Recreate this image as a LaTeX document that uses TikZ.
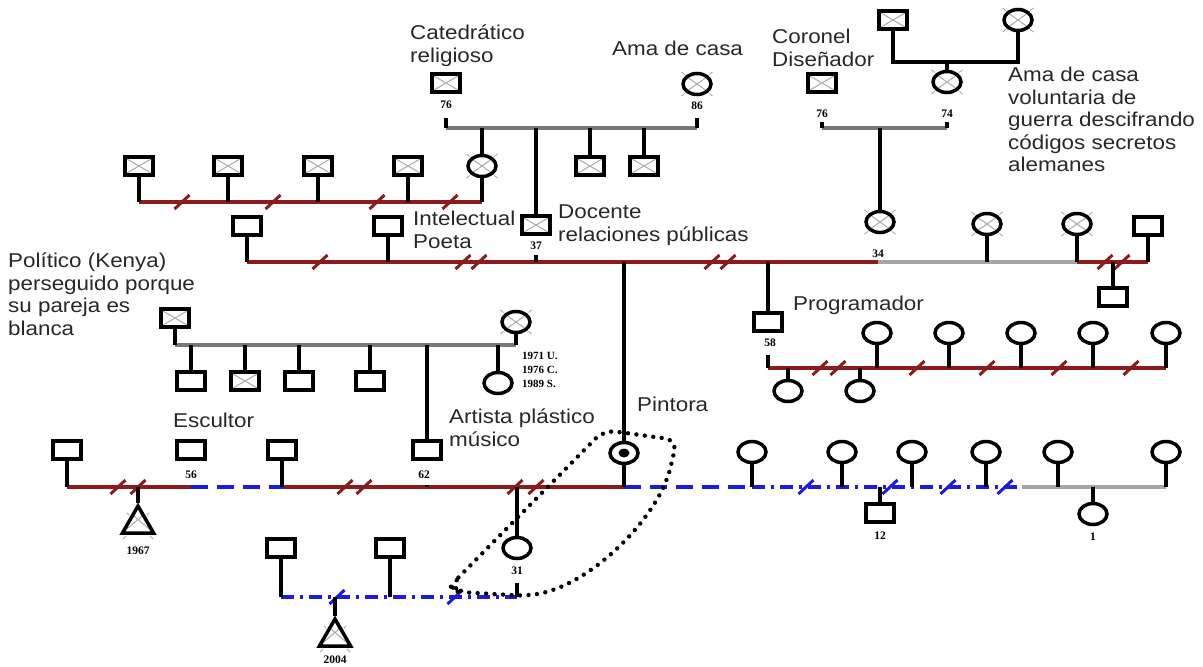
\documentclass[tikz,border=0pt]{standalone}
\usepackage{fontspec}
\setmainfont{Liberation Sans}
\newfontfamily\lab[FakeStretch=1.12]{Liberation Sans}
\newfontfamily\numf{Liberation Serif}
\usetikzlibrary{shapes.geometric,calc}
\definecolor{mred}{RGB}{140,28,28}
\definecolor{mgray}{RGB}{120,120,120}
\definecolor{lgray}{RGB}{165,165,165}
\definecolor{mblue}{RGB}{28,28,225}
\definecolor{xgray}{RGB}{170,170,170}
\definecolor{txt}{RGB}{40,40,40}

\tikzset{
  person/.style={draw=black, line width=3.5pt, fill=white, inner sep=0pt},
  sq/.style={person, rectangle, minimum width=28pt, minimum height=18pt},
  ci/.style={person, ellipse, minimum width=28pt, minimum height=21pt},
  tr/.style={person, regular polygon, regular polygon sides=3, minimum size=36pt},
  dd/.style={path picture={\draw[xgray, line width=1pt]
      ([shift={(2pt,-2pt)}]path picture bounding box.north west) -- ([shift={(-2pt,2pt)}]path picture bounding box.south east)
      ([shift={(-2pt,-2pt)}]path picture bounding box.north east) -- ([shift={(2pt,2pt)}]path picture bounding box.south west);}},
  kl/.style={line width=3.2pt, black},
  rl/.style={line width=3.4pt, mred},
  gl/.style={line width=3.2pt, mgray},
  ll/.style={line width=3.4pt, lgray},
  bd/.style={line width=3.4pt, mblue, dash pattern=on 17pt off 9pt},
  bdd/.style={line width=3.4pt, mblue, dash pattern=on 13pt off 6pt on 3pt off 6pt},
  lab/.style={inner sep=0pt, anchor=north west, align=left, text=txt,
      font=\fontsize{20}{22.5}\lab, execute at begin node={\rule{0pt}{18pt}}},
  num/.style={inner sep=0pt, text=black, font=\fontsize{11.5}{13}\numf\bfseries},
  yr/.style={inner sep=0pt, anchor=west, text=black, font=\fontsize{11}{15}\numf\bfseries},
  encl/.style={line width=4.4pt, dash pattern=on 0pt off 8.5pt, line cap=round, rounded corners=12pt},
  slsh/.pic={\path[pic actions, line width=3pt] (-7.5pt,-7pt) -- (7.5pt,7pt);}
}
% small grey rays around a deceased woman / child
\newcommand\rays[1]{%
  \foreach \an in {north west,north east,south west,south east}{%
    \draw[xgray, line width=0.9pt] ($(#1.center)!1.1!(#1.\an)$) -- ($(#1.center)!1.4!(#1.\an)$);}}

\begin{document}
\begin{tikzpicture}[x=1pt, y=-1pt]
\useasboundingbox[fill=white] (0,0) rectangle (1203,667);

% ---------- oldest generation ----------
\node[sq,dd] (gf) at (893,20) {};
\node[ci,dd] (gm) at (1018,20) {}; \rays{gm}
\coordinate (gfa) at (893,62); \coordinate (gma) at (1018,62);
\draw[kl] (gf.south) -- (gfa) -- (gma) -- (gm.south);

\node[sq,dd] (cat) at (446,83) {};
\node[ci,dd] (ama) at (697,84) {}; \rays{ama}
\node[sq,dd] (cor) at (822,83) {};
\node[ci,dd] (vol) at (947,82) {}; \rays{vol}
\draw[kl] (vol.north) -- (vol.north |- gfa);

\node[num] (n76a) at (446,105) {76};
\node[num] (n86) at (697,106) {86};
\node[num] (n76b) at (822,114) {76};
\node[num] (n74) at (947,114) {74};

% couple lines
\coordinate (ca1) at (446,118); \coordinate (ca2) at (446,128);
\coordinate (cb1) at (697,118); \coordinate (cb2) at (697,128);
\coordinate (cc1) at (822,122); \coordinate (cc2) at (822,128);
\coordinate (cd1) at (947,122); \coordinate (cd2) at (947,128);
\draw[gl] (ca2) -- (cb2);
\draw[gl] (cc2) -- (cd2);
\draw[kl] (ca1) -- (ca2) (cb1) -- (cb2) (cc1) -- (cc2) (cd1) -- (cd2);

% children of the professor
\node[ci,dd] (dau) at (482,166) {}; \rays{dau}
\node[sq,dd] (doc) at (536,225) {};
\node[sq,dd] (s5) at (590,166) {};
\node[sq,dd] (s6) at (644,166) {};
\draw[kl] (dau.north |- ca2) -- (dau.north);
\draw[kl] (doc.north |- ca2) -- (doc.north);
\draw[kl] (s5.north |- ca2) -- (s5.north);
\draw[kl] (s6.north |- ca2) -- (s6.north);

% her four husbands
\node[sq,dd] (h1) at (139,166) {};
\node[sq,dd] (h2) at (228,166) {};
\node[sq,dd] (h3) at (318,166) {};
\node[sq,dd] (h4) at (408,166) {};
\coordinate (r1a) at (139,202); \coordinate (r1b) at (482,202);
\draw[rl] (r1a) -- (r1b);
\foreach \p in {h1,h2,h3,h4,dau}{\draw[kl] (\p.south) -- (\p.south |- r1a);}
\foreach \x in {182,273,377,450}{\pic[draw=mred] at (\x,202) {slsh};}

% child of the colonel
\node[ci,dd] (w34) at (880,222) {}; \rays{w34}
\draw[kl] (w34.north |- cc2) -- (w34.north);
\node[num] (n34) at (878,254) {34};
\node[num] (n37) at (536,246) {37};

% ---------- second generation ----------
\node[sq] (m1) at (247,226) {};
\node[sq] (m2) at (388,226) {};
\node[ci,dd] (w2) at (987,224) {}; \rays{w2}
\node[ci,dd] (w3) at (1077,224) {}; \rays{w3}
\node[sq] (m3) at (1148,226) {};
\coordinate (g2a) at (247,262); \coordinate (g2b) at (878,262);
\coordinate (g2c) at (1077,262); \coordinate (g2d) at (1148,262);
\draw[rl] (g2a) -- (g2b);
\draw[ll] (g2b) -- (g2c);
\draw[rl] (g2c) -- (g2d);
\foreach \p in {m1,m2,w2,w3,m3}{\draw[kl] (\p.south) -- (\p.south |- g2a);}
\draw[kl] ($(n37.south)+(0,5)$) -- (n37.south |- g2a);
\foreach \x in {320,463,479,712,728}{\pic[draw=mred] at (\x,262) {slsh};}
\foreach \x in {1105,1122}{\pic[draw=mred] at (\x,262) {slsh};}
\node[sq] (mc) at (1113,297) {};
\draw[kl] (mc.north |- g2a) -- (mc.north);

% programmer and his partners
\node[sq] (prog) at (768,322) {};
\draw[kl] (prog.north |- g2a) -- (prog.north);
\node[num] (n58) at (770,343) {58};
\coordinate (pa0) at (768,355); \coordinate (pa) at (768,368); \coordinate (pb) at (1166,368);
\draw[rl] (pa) -- (pb);
\draw[kl] (pa0) -- (pa);
\foreach \i/\x in {1/877,2/949,3/1021,4/1093,5/1166}{
  \node[ci] (p\i) at (\x,333) {};
  \draw[kl] (p\i.south) -- (p\i.south |- pa);}
\node[ci] (q1) at (788,391) {};
\node[ci] (q2) at (860,391) {};
\draw[kl] (q1.north |- pa) -- (q1.north);
\draw[kl] (q2.north |- pa) -- (q2.north);
\foreach \x in {820,838,917,987,1059,1131}{\pic[draw=mred] at (\x,368) {slsh};}

% the Kenyan politician's family
\node[sq,dd] (ken) at (175,318) {};
\node[ci,dd] (kw) at (516,322) {}; \rays{kw}
\coordinate (ka) at (175,345); \coordinate (kb) at (516,345);
\draw[gl] (ka) -- (kb);
\draw[kl] (ken.south) -- (ka) (kw.south) -- (kb);
\node[sq] (k1) at (191,381) {};
\node[sq,dd] (k2) at (245,381) {};
\node[sq] (k3) at (299,381) {};
\node[sq] (k4) at (370,381) {};
\node[ci] (kd) at (498,383) {};
\foreach \p in {k1,k2,k3,k4,kd}{\draw[kl] (\p.north |- ka) -- (\p.north);}
\node[yr] (y1) at (522,356) {1971 U.};
\node[yr] (y2) at (522,370) {1976 C.};
\node[yr] (y3) at (522,384) {1989 S.};

% ---------- third generation ----------
\node[sq] (e1) at (67,450) {};
\node[sq] (esc) at (191,450) {};
\node[sq] (e3) at (282,450) {};
\node[sq] (s62) at (427,450) {};
\draw[kl] (s62.north |- ka) -- (s62.north);
\node[ci] (pin) at (624,453) {};
\fill (pin.center) ellipse (5.5pt and 4.5pt);
\coordinate (pj) at (624,262);
\draw[kl] (pj) -- (pin.north);
\node[num] (n56) at (191,475) {56};
\node[num] (n62) at (424,475) {62};

\coordinate (L3a) at (67,487); \coordinate (L3b) at (191,487);
\coordinate (L3c) at (282,487); \coordinate (L3d) at (624,487);
\coordinate (L3e) at (752,487); \coordinate (L3f) at (1022,487);
\coordinate (L3g) at (1166,487);
\draw[rl] (L3a) -- (L3b);
\draw[bd] (L3b) -- (L3c);
\draw[rl] (L3c) -- (L3d);
\draw[bd] (L3d) -- (L3e);
\draw[bdd] (L3e) -- (L3f);
\draw[ll] (L3f) -- (L3g);
\foreach \x in {118,138,345,364,515,536}{\pic[draw=mred] at (\x,487) {slsh};}
\foreach \x in {806,890,948,1005}{\pic[draw=mblue] at (\x,487) {slsh};}
\draw[kl] (e1.south) -- (e1.south |- L3a);
\draw[kl] (e3.south) -- (e3.south |- L3a);
\draw[kl] (pin.south) -- (pin.south |- L3a);
\draw[kl] ($(s62.south)+(0,24)$) -- (s62.south |- L3a);

\foreach \i/\x in {1/752,2/842,3/912,4/986,5/1058,6/1166}{
  \node[ci] (f\i) at (\x,452) {};
  \draw[kl] (f\i.south) -- (f\i.south |- L3a);}

% children on the third line
\node[tr,dd] (t1) at (138,524) {}; \rays{t1}
\draw[kl] (t1.north |- L3a) -- (t1.north);
\node[num] (n1967) at (138,551) {1967};
\node[sq] (c12) at (880,513) {};
\draw[kl] (c12.north |- L3a) -- (c12.north);
\node[num] (n12) at (880,536) {12};
\node[ci] (c1) at (1093,514) {};
\draw[kl] (c1.north |- L3a) -- (c1.north);
\node[num] (n1) at (1093,537) {1};
\node[ci] (c31) at (517,548) {};
\draw[kl] (c31.north |- L3a) -- (c31.north);
\node[num] (n31) at (517,571) {31};

% ---------- fourth generation ----------
\node[sq] (b1) at (281,548) {};
\node[sq] (b2) at (390,548) {};
\coordinate (L4a) at (281,597); \coordinate (L4b) at (517,597);
\coordinate (c31b) at (517,583);
\draw[bdd] (L4a) -- (L4b);
\draw[kl] (b1.south) -- (b1.south |- L4a) (b2.south) -- (b2.south |- L4a) (c31b) -- (L4b);
\foreach \x in {337,455}{\pic[draw=mblue] at (\x,597) {slsh};}
\node[tr,dd] (t2) at (335,637) {}; \rays{t2}
\draw[kl] (t2.north |- L4a) -- (t2.north);
\node[num] (n2004) at (335,660) {2004};

% household boundary
\draw[encl] (450,586) -- (604,430) -- (677,440) -- (668,478)
  .. controls (640,535) and (585,585) .. (527,596) -- (458,592) -- cycle;

% ---------- labels ----------
\node[lab] (tcat) at (410,25) {Catedrático\\religioso};
\node[lab] (tama) at (612,37) {Ama de casa};
\node[lab] (tcor) at (772,29) {Coronel\\Diseñador};
\node[lab] (tvol) at (1008,67) {Ama de casa\\voluntaria de\\guerra descifrando\\códigos secretos\\alemanes};
\node[lab] (tint) at (413,211) {Intelectual\\Poeta};
\node[lab] (tdoc) at (558,205) {Docente\\relaciones públicas};
\node[lab] (tken) at (8,253) {Político (Kenya)\\perseguido porque\\su pareja es\\blanca};
\node[lab] (tpro) at (793,292) {Programador};
\node[lab] (tesc) at (173,409) {Escultor};
\node[lab] (tart) at (449,409) {Artista plástico\\músico};
\node[lab] (tpin) at (637,393) {Pintora};
\end{tikzpicture}
\end{document}
